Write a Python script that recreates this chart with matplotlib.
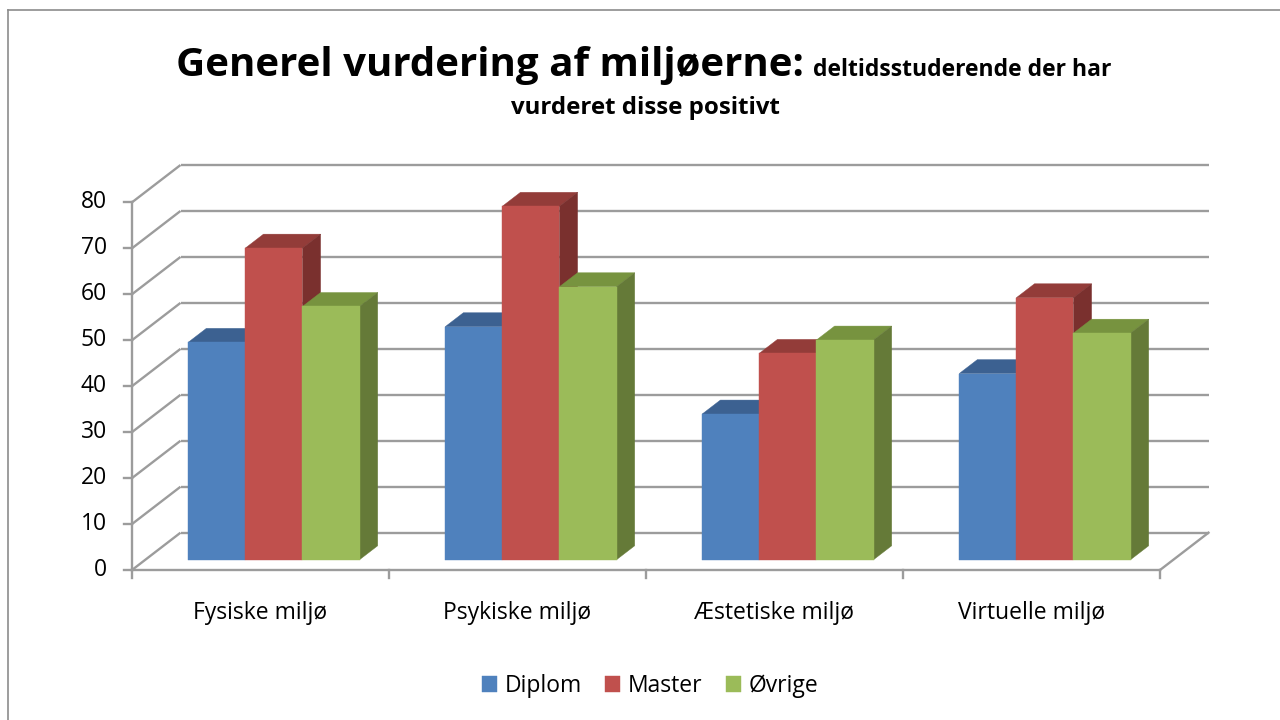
import matplotlib
matplotlib.use("Agg")
import matplotlib.pyplot as plt
from matplotlib.patches import Polygon
from matplotlib.lines import Line2D

# ---- data ----
categories = ["Fysiske miljø", "Psykiske miljø", "Æstetiske miljø", "Virtuelle miljø"]
series_names = ["Diplom", "Master", "Øvrige"]
diplom = [47.3, 50.7, 31.7, 40.5]
master = [67.8, 76.9, 44.9, 57.0]
ovrige = [55.1, 59.4, 47.8, 49.3]
y_ticks = [0, 10, 20, 30, 40, 50, 60, 70, 80]
title_main = "Generel vurdering af miljøerne:"
title_sub1 = "deltidsstuderende der har"
title_sub2 = "vurderet disse positivt"

series_values = [diplom, master, ovrige]
front_cols = ["#4F81BD", "#C0504D", "#9BBB59"]
top_cols = ["#3C6191", "#933C39", "#77933F"]
side_cols = ["#324F78", "#7A302E", "#657A38"]

FONT = "Open Sans"
W, H = 1280, 720
fig = plt.figure(figsize=(12.8, 7.2), dpi=100)
fig.patch.set_facecolor("white")

# axes placed so that front floor (value 0) sits at y=570px, 80 at ~202px,
# categories span x=132..1160px
px_per_cat = 257.0
px_per_val = 4.596
x0_px, y0_px = 132.0, 570.0
ax_l, ax_r, ax_t, ax_b = 100, 1240, 150, 600
ax = fig.add_axes([ax_l / W, 1 - ax_b / H, (ax_r - ax_l) / W, (ax_b - ax_t) / H])
ax.set_xlim((ax_l - x0_px) / px_per_cat, (ax_r - x0_px) / px_per_cat)
ax.set_ylim((y0_px - ax_b) / px_per_val, (y0_px - ax_t) / px_per_val)
ax.axis("off")

n = len(categories)
DX = 48.5 / px_per_cat      # full depth offset in data units
DY = 37.3 / px_per_val
f0, f1 = 0.276, 0.65        # bar depth (front, back) as fraction of full depth
grid_c = "#9C9C9C"
glw = 1.7

# walls / grid
for v in y_ticks:
    ax.plot([0, DX], [v, v + DY], color=grid_c, lw=glw, zorder=1, solid_capstyle="butt")
    ax.plot([DX, n + DX], [v + DY, v + DY], color=grid_c, lw=glw, zorder=1, solid_capstyle="butt")
# floor
ax.plot([0, n], [0, 0], color=grid_c, lw=glw, zorder=1)
ax.plot([n, n + DX], [0, DY], color=grid_c, lw=glw, zorder=1)
# value axis
ax.plot([0, 0], [0, y_ticks[-1]], color=grid_c, lw=glw, zorder=1)
tick_len = 8 / px_per_cat
for v in y_ticks:
    ax.plot([-tick_len, 0], [v, v], color=grid_c, lw=glw, zorder=1)
    ax.text(-25 / px_per_cat, v, str(v), ha="right", va="center",
            fontsize=16.5, family=FONT, color="black")
# category ticks
for i in range(n + 1):
    ax.plot([i, i], [0, -8 / px_per_val], color=grid_c, lw=glw, zorder=1)
for i, c in enumerate(categories):
    ax.text(i + 0.5, -43 / px_per_val, c, ha="center", va="center",
            fontsize=16.5, family=FONT, color="black")

# bars
w = 1 / 4.5
d = f1 - f0
handles = []
for j, vals in enumerate(series_values):
    xs = [i + 0.5 + (j - 1) * w + f0 * DX for i in range(n)]
    base = f0 * DY
    z = 3 + j
    bc = ax.bar(xs, vals, width=w, bottom=base, color=front_cols[j],
                edgecolor=front_cols[j], linewidth=0.3, zorder=z + 0.5,
                label=series_names[j])
    handles.append(bc)
    for xc, v in zip(xs, vals):
        xl, xr = xc - w / 2, xc + w / 2
        top = base + v
        ax.add_patch(Polygon([(xl, top), (xr, top), (xr + d * DX, top + d * DY),
                              (xl + d * DX, top + d * DY)], closed=True,
                             facecolor=top_cols[j], edgecolor=top_cols[j],
                             lw=0.3, zorder=z))
        ax.add_patch(Polygon([(xr, base), (xr, top), (xr + d * DX, top + d * DY),
                              (xr + d * DX, base + d * DY)], closed=True,
                             facecolor=side_cols[j], edgecolor=side_cols[j],
                             lw=0.3, zorder=z))

# legend
leg = fig.legend(handles=handles, labels=series_names, loc="center",
                 bbox_to_anchor=(650 / W, 1 - 686 / H), ncol=3, frameon=False,
                 prop={"family": FONT, "size": 16.5}, handlelength=0.66,
                 handleheight=0.66, handletextpad=0.35, columnspacing=1.0)

# title
renderer = fig.canvas.get_renderer()

def fit(t, target):
    bb = t.get_window_extent(renderer)
    t.set_fontsize(t.get_fontsize() * target / bb.width)

t1 = fig.text(176 / W, 1 - 76 / H, title_main, ha="left", va="baseline",
              fontsize=28, fontweight="bold", family=FONT)
fit(t1, 627)
t2 = fig.text(813 / W, 1 - 76 / H, title_sub1, ha="left", va="baseline",
              fontsize=14, fontweight="bold", family=FONT)
fit(t2, 300)
t3 = fig.text(645 / W, 1 - 114 / H, title_sub2, ha="center", va="baseline",
              fontsize=14, fontweight="bold", family=FONT)
fit(t3, 270)

# chart frame (left and top edges visible)
fig.add_artist(Line2D([8 / W, 8 / W], [0, 1 - 10 / H], color="#8C8C8C", lw=1.2,
                      transform=fig.transFigure))
fig.add_artist(Line2D([8 / W, 1], [1 - 10 / H, 1 - 10 / H], color="#8C8C8C", lw=1.2,
                      transform=fig.transFigure))

fig.savefig("out.png", dpi=100, facecolor="white")
